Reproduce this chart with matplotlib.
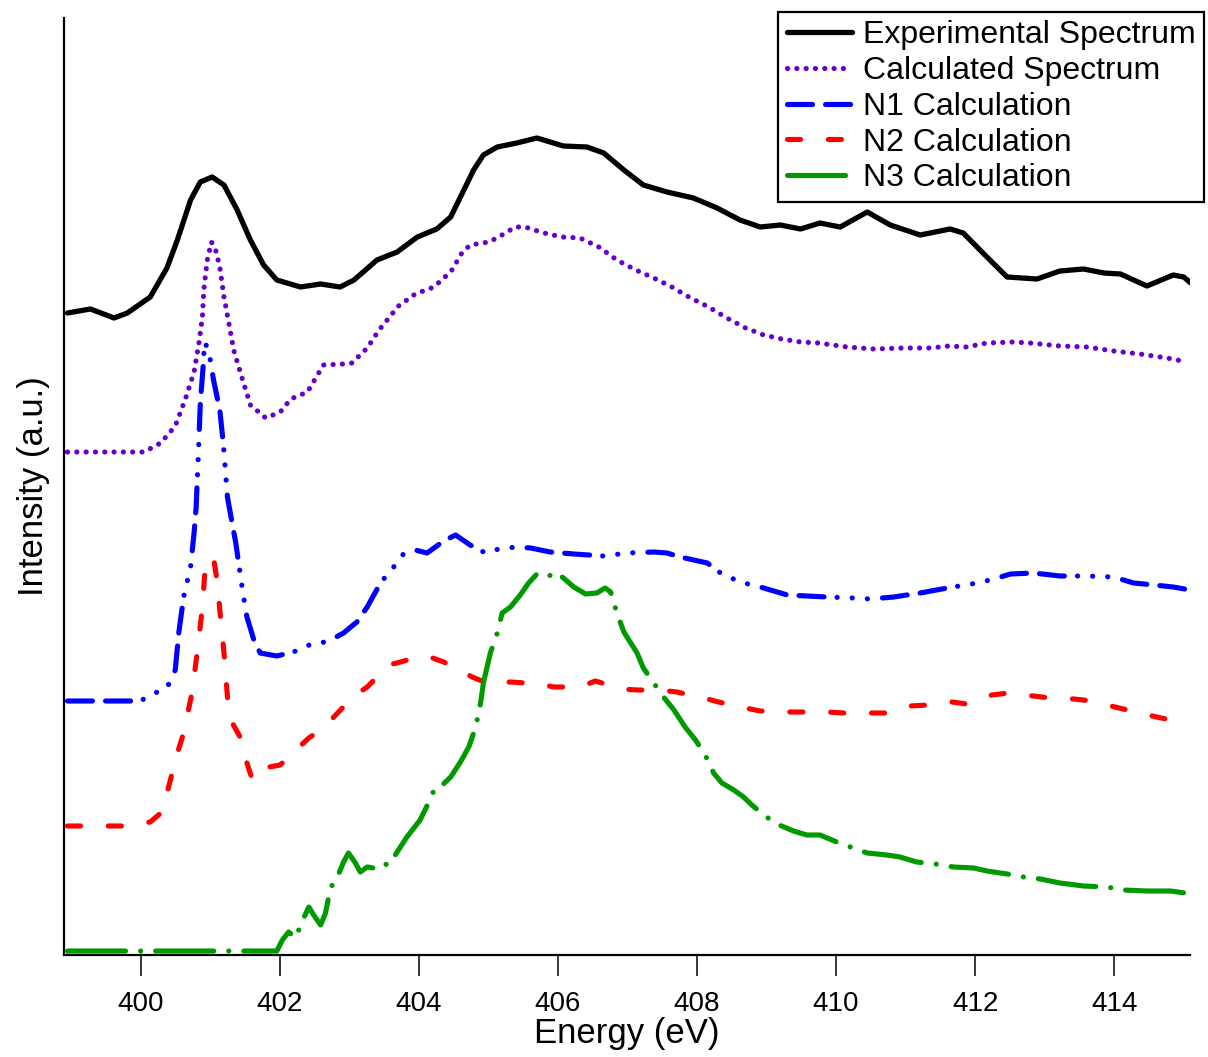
import matplotlib
matplotlib.use("Agg")
import matplotlib.pyplot as plt

plt.rcParams['font.family'] = ['Liberation Sans', 'DejaVu Sans']
plt.rcParams['lines.scale_dashes'] = False

# ---------------- data (energy in eV, intensity in a.u.) ----------------
exp_x = [398.95, 399.28, 399.62, 399.81, 400.14, 400.38, 400.53, 400.72, 400.86, 401.03,
         401.20, 401.39, 401.58, 401.77, 401.96, 402.30, 402.59, 402.87, 403.07, 403.40,
         403.69, 403.98, 404.26, 404.46, 404.60, 404.79, 404.93, 405.13, 405.41, 405.70,
         405.89, 406.08, 406.42, 406.66, 406.95, 407.23, 407.57, 407.95, 408.29, 408.62,
         408.91, 409.20, 409.49, 409.77, 410.06, 410.45, 410.78, 411.21, 411.64, 411.83,
         412.17, 412.46, 412.89, 413.22, 413.56, 413.85, 414.09, 414.47, 414.85, 415.00,
         415.10]
exp_y = [6.42, 6.46, 6.37, 6.42, 6.58, 6.87, 7.15, 7.55, 7.73, 7.78,
         7.70, 7.45, 7.15, 6.90, 6.75, 6.68, 6.71, 6.68, 6.75, 6.95,
         7.03, 7.18, 7.26, 7.38, 7.58, 7.85, 8.00, 8.08, 8.12, 8.17,
         8.13, 8.09, 8.08, 8.02, 7.85, 7.70, 7.63, 7.57, 7.47, 7.35,
         7.28, 7.30, 7.26, 7.32, 7.28, 7.43, 7.30, 7.20, 7.26, 7.22,
         6.98, 6.78, 6.76, 6.84, 6.86, 6.82, 6.81, 6.69, 6.80, 6.78,
         6.72]

calc_x = [398.95, 400.05, 400.29, 400.50, 400.65, 400.77, 400.84, 400.89, 400.91, 400.96,
          401.02, 401.08, 401.14, 401.20, 401.27, 401.34, 401.46, 401.58, 401.80, 402.01,
          402.16, 402.40, 402.63, 402.92, 403.04, 403.26, 403.43, 403.71, 403.95, 404.22,
          404.36, 404.46, 404.62, 404.74, 405.01, 405.15, 405.39, 405.53, 405.80, 406.06,
          406.32, 406.59, 406.85, 407.12, 407.38, 407.64, 407.91, 408.17, 408.43, 408.70,
          408.96, 409.22, 409.49, 409.75, 410.16, 410.54, 410.97, 411.36, 411.62, 411.88,
          412.17, 412.55, 412.79, 413.22, 413.61, 413.99, 414.37, 414.76, 415.05]
calc_y = [5.03, 5.03, 5.12, 5.29, 5.57, 5.83, 6.12, 6.38, 6.65, 6.95,
          7.13, 7.05, 6.88, 6.58, 6.32, 6.05, 5.77, 5.50, 5.37, 5.43,
          5.56, 5.63, 5.90, 5.91, 5.92, 6.07, 6.25, 6.49, 6.61, 6.68,
          6.77, 6.83, 7.02, 7.10, 7.13, 7.18, 7.28, 7.28, 7.22, 7.18,
          7.17, 7.08, 6.95, 6.85, 6.77, 6.68, 6.57, 6.48, 6.37, 6.27,
          6.20, 6.16, 6.13, 6.12, 6.08, 6.06, 6.07, 6.07, 6.09, 6.08,
          6.12, 6.13, 6.12, 6.09, 6.08, 6.04, 6.01, 5.97, 5.93]

n1_x = [398.95, 400.00, 400.14, 400.38, 400.50, 400.55, 400.62, 400.72, 400.77, 400.80,
        400.84, 400.86, 400.90, 400.92, 400.98, 401.05, 401.14, 401.19, 401.25, 401.27,
        401.37, 401.46, 401.53, 401.63, 401.72, 401.96, 402.20, 402.49, 402.68, 402.92,
        403.11, 403.26, 403.45, 403.64, 403.78, 403.95, 404.12, 404.36, 404.53, 404.74,
        404.96, 405.15, 405.41, 405.61, 405.89, 406.23, 406.66, 407.00, 407.38, 407.57,
        407.76, 408.15, 408.34, 408.62, 408.91, 409.30, 409.58, 409.87, 410.25, 410.49,
        410.83, 411.21, 411.60, 412.03, 412.27, 412.51, 412.84, 413.22, 413.61, 413.99,
        414.28, 414.57, 414.85, 415.09]
n1_y = [2.54, 2.54, 2.60, 2.67, 2.85, 3.22, 3.58, 3.88, 4.22, 4.48,
        5.15, 5.52, 5.88, 6.13, 6.05, 5.75, 5.45, 5.12, 4.58, 4.50,
        4.12, 3.68, 3.38, 3.15, 3.02, 2.99, 3.03, 3.12, 3.13, 3.22,
        3.33, 3.48, 3.72, 3.88, 4.01, 4.05, 4.02, 4.14, 4.20, 4.10,
        4.02, 4.06, 4.08, 4.07, 4.03, 4.01, 3.99, 4.02, 4.03, 4.02,
        3.98, 3.92, 3.82, 3.73, 3.68, 3.60, 3.59, 3.58, 3.57, 3.56,
        3.58, 3.62, 3.67, 3.72, 3.76, 3.81, 3.82, 3.79, 3.79, 3.78,
        3.72, 3.70, 3.68, 3.65]

n2_x = [398.95, 399.81, 400.14, 400.31, 400.43, 400.50, 400.62, 400.74, 400.82, 400.89,
        400.93, 400.98, 401.05, 401.10, 401.15, 401.21, 401.25, 401.32, 401.44, 401.53,
        401.61, 401.77, 402.01, 402.16, 402.42, 402.59, 402.78, 402.97, 403.09, 403.26,
        403.43, 403.57, 403.74, 403.98, 404.12, 404.36, 404.53, 404.77, 404.98, 405.32,
        405.75, 405.94, 406.32, 406.54, 406.92, 407.14, 407.47, 407.71, 408.10, 408.31,
        408.70, 408.91, 409.30, 409.51, 409.87, 410.11, 410.49, 410.71, 411.07, 411.31,
        411.67, 411.88, 412.24, 412.48, 412.84, 413.08, 413.42, 413.68, 414.01, 414.25,
        414.61, 414.88]
n2_y = [1.29, 1.29, 1.33, 1.43, 1.75, 1.95, 2.22, 2.62, 3.05, 3.48,
        3.88, 3.97, 3.97, 3.75, 3.38, 2.95, 2.58, 2.32, 2.17, 1.92,
        1.75, 1.87, 1.90, 2.00, 2.17, 2.25, 2.38, 2.52, 2.60, 2.68,
        2.80, 2.90, 2.93, 2.98, 2.99, 2.93, 2.87, 2.78, 2.72, 2.73,
        2.71, 2.68, 2.68, 2.74, 2.66, 2.65, 2.65, 2.63, 2.57, 2.53,
        2.47, 2.44, 2.43, 2.43, 2.43, 2.42, 2.42, 2.42, 2.49, 2.50,
        2.53, 2.51, 2.60, 2.62, 2.59, 2.57, 2.56, 2.54, 2.48, 2.44,
        2.38, 2.34]

n3_x = [398.95, 401.96, 402.04, 402.13, 402.23, 402.32, 402.42, 402.49, 402.59, 402.66,
        402.73, 402.83, 402.92, 402.99, 403.09, 403.16, 403.26, 403.35, 403.45, 403.57,
        403.69, 403.83, 404.02, 404.14, 404.24, 404.34, 404.46, 404.60, 404.72, 404.82,
        404.89, 404.93, 405.03, 405.13, 405.20, 405.32, 405.46, 405.58, 405.70, 405.85,
        405.97, 406.08, 406.23, 406.40, 406.56, 406.68, 406.76, 406.85, 406.95, 407.04,
        407.14, 407.23, 407.38, 407.52, 407.67, 407.83, 407.98, 408.12, 408.24, 408.36,
        408.53, 408.67, 408.79, 408.96, 409.15, 409.39, 409.58, 409.77, 410.01, 410.21,
        410.45, 410.73, 410.92, 411.16, 411.43, 411.69, 411.98, 412.17, 412.46, 412.70,
        412.94, 413.22, 413.56, 413.90, 414.13, 414.47, 414.81, 415.02]
n3_y = [0.04, 0.04, 0.15, 0.23, 0.17, 0.33, 0.48, 0.40, 0.30, 0.42,
        0.67, 0.78, 0.93, 1.02, 0.92, 0.83, 0.88, 0.87, 0.92, 0.90,
        1.03, 1.18, 1.35, 1.52, 1.68, 1.70, 1.78, 1.93, 2.08, 2.28,
        2.52, 2.72, 3.02, 3.22, 3.42, 3.48, 3.60, 3.72, 3.81, 3.78,
        3.83, 3.77, 3.68, 3.61, 3.62, 3.67, 3.63, 3.42, 3.23, 3.13,
        3.02, 2.87, 2.72, 2.58, 2.45, 2.28, 2.15, 2.00, 1.82, 1.72,
        1.65, 1.58, 1.50, 1.40, 1.31, 1.24, 1.20, 1.20, 1.13, 1.08,
        1.02, 1.00, 0.98, 0.93, 0.91, 0.88, 0.87, 0.84, 0.81, 0.78,
        0.76, 0.72, 0.69, 0.68, 0.65, 0.64, 0.64, 0.62]

labels = ["Experimental Spectrum", "Calculated Spectrum", "N1 Calculation",
          "N2 Calculation", "N3 Calculation"]
xticks = [400, 402, 404, 406, 408, 410, 412, 414]

# ---------------- figure ----------------
fig = plt.figure(figsize=(12.08, 10.57), dpi=100)
ax = fig.add_axes([64 / 1208, 1 - 955 / 1057, (1190 - 64) / 1208, (955 - 18) / 1057])

lw = 3.7
common = dict(dash_capstyle='round', solid_capstyle='round', solid_joinstyle='round',
              dash_joinstyle='round')
ax.plot(exp_x, exp_y, color='black', lw=3.8, label=labels[0], **common)
ax.plot(calc_x, calc_y, color='#6600cc', lw=lw, linestyle=(0, (0.1, 6.6)),
        label=labels[1], **common)
ax.plot(n1_x, n1_y, color='#0000ff', lw=lw,
        linestyle=(0, (18, 9.4, 18, 9.4, 0.1, 10.8, 0.1, 10.8, 0.1, 10.8)),
        label=labels[2], **common)
ax.plot(n2_x, n2_y, color='#ff0000', lw=lw, linestyle=(0, (9.4, 20)),
        label=labels[3], **common)
ax.plot(n3_x, n3_y, color='#009900', lw=lw, linestyle=(0, (41.8, 10.8, 0.1, 10.8)),
        label=labels[4], **common)

ax.set_xlim(398.9, 415.09)
ax.set_ylim(0, 9.37)
ax.set_xticks(xticks)
ax.set_xticklabels([str(t) for t in xticks])
ax.set_yticks([])
ax.tick_params(axis='x', direction='out', length=15, width=1.1, pad=11,
               labelsize=20, colors='black')
for s in ['top', 'right']:
    ax.spines[s].set_visible(False)
for s in ['left', 'bottom']:
    ax.spines[s].set_linewidth(1.6)
    ax.spines[s].set_color('black')

ax.set_xlabel("Energy (eV)", fontsize=25, labelpad=0)
ax.set_ylabel("Intensity (a.u.)", fontsize=25, labelpad=10)

leg = ax.legend(loc='upper right', bbox_to_anchor=(1204 / 1208, 1 - 12 / 1057),
                bbox_transform=fig.transFigure, borderaxespad=0, fontsize=23,
                frameon=True, fancybox=False, shadow=False, framealpha=1,
                edgecolor='black', labelspacing=0.18, handlelength=2.04,
                handletextpad=0.345, borderpad=0.26)
leg.get_frame().set_linewidth(1.6)

fig.savefig("out.png", dpi=100)
